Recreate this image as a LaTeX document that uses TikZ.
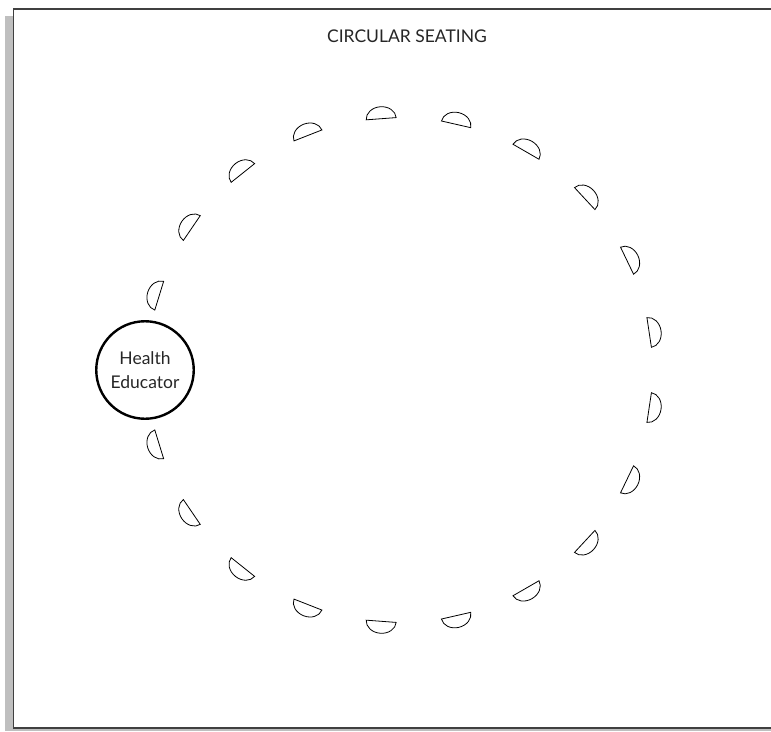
\documentclass[tikz,border=0pt]{standalone}
\usepackage{fontspec}
\setmainfont{Lato}
\usetikzlibrary{positioning}
\tikzset{
  seatline/.style={draw, line width=0.8pt},
  chair/.pic={\draw[seatline] (0,-15) arc[start angle=-90, end angle=90, x radius=12, y radius=15] -- cycle;},
  frameline/.style={line width=1.6pt, draw=black!75},
  shadow/.style={fill=black!25},
  lbl/.style={font=\fontsize{17.5}{24}\selectfont, align=center, text=black!85}}
\begin{document}
\begin{tikzpicture}[x=1pt, y=-1pt]
  \useasboundingbox (0,0) rectangle (771,731);
  % frame and its shadow
  \fill[shadow] (5,16) rectangle (13,731);
  \fill[shadow] (13,728) rectangle (771,731);
  \draw[frameline] (771,9) -- (13.3,9) -- (13.3,727.7) -- (771,727.7);
  \coordinate (mid) at (400,370);
  \node[lbl] (title) at (407,36) {CIRCULAR SEATING};
  \node[lbl, font=\fontsize{17.5}{24}\selectfont, circle, draw=black, line width=2.4pt, minimum size=97.5pt, inner sep=0pt] (educator) at (145,370) {Health\\Educator};
  % twenty seats round the ring
  \foreach \k in {0,...,9,11,12,...,20} {
    \pgfmathsetmacro{\a}{8.571+\k*17.143}
    \path (mid) ++(\a:252) pic[rotate=-\a] {chair};
  }
\end{tikzpicture}
\end{document}
